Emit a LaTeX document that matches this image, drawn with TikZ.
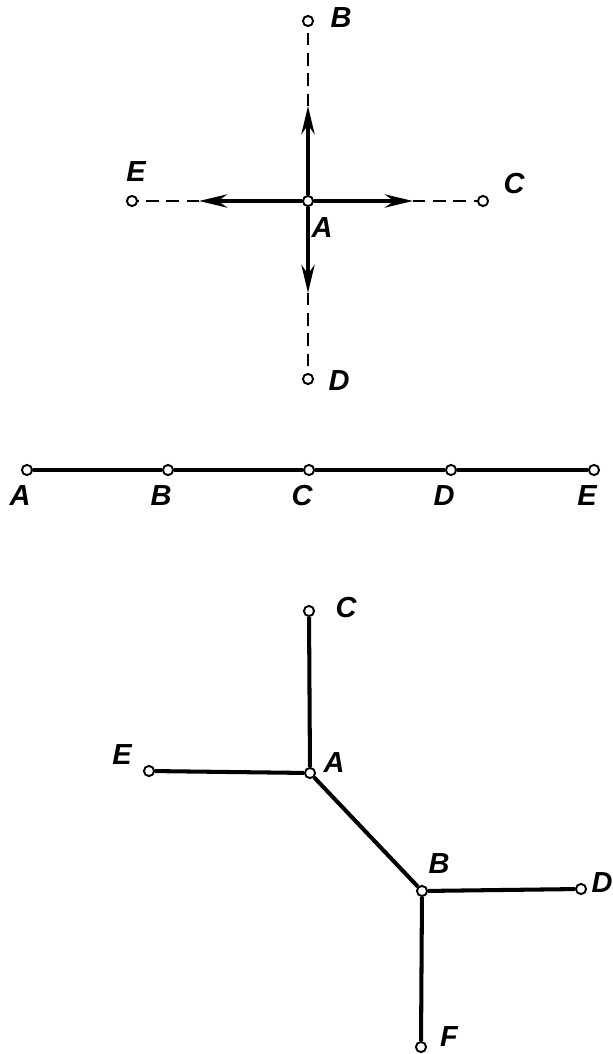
\documentclass[tikz,border=0pt]{standalone}
\usepackage{fontspec}
\setsansfont{Liberation Sans}
\usetikzlibrary{arrows.meta}
\tikzset{>={Stealth[length=16pt,width=7.5pt]}}

\begin{document}
\begin{tikzpicture}[x=0.02cm,y=-0.02cm, % one unit = one pixel of the page
  pt/.style={circle,draw,fill=white,line width=1.1pt,inner sep=0pt,minimum size=5.8pt},
  lbl/.style={font=\sffamily\bfseries\itshape\fontsize{16.5}{16.5}\selectfont,inner sep=0pt},
  bar/.style={line width=2.3pt},
  dashline/.style={line width=1.7pt,dash pattern=on 7pt off 4.5pt}]
  \useasboundingbox (0,0) rectangle (612,1054);

  % cross with the arrows
  \node[pt] (A) at (308,201) {};
  \foreach \n/\x/\y in {B/308/21,C/483/201,D/308/379,E/132/201}{ % outer points
    \node[pt] (\n) at (\x,\y) {};
  }
  \foreach \n/\x/\y in {A/322/228,B/341/18,C/514/184,D/339/381,E/136/172}{ % their letters
    \node[lbl] at (\x,\y) {\n};
  }
  \foreach \n/\x/\y in {B/308/106,C/413/201,D/308/293,E/199/201}{ % arrow tips
    \coordinate (t\n) at (\x,\y);
    \draw[->,bar] (A) -- (t\n);
    \draw[dashline] (t\n) -- (\n);
  }

  % straight row
  \foreach \n/\x in {A/27,B/168,C/309,D/451,E/594}{
    \node[pt] (m\n) at (\x,470) {};
    \node[lbl] at (\x-7,496) {\n};
  }
  \draw[bar] (mA) -- (mB) -- (mC) -- (mD) -- (mE);

  % tree with a bend
  \foreach \n/\x/\y in {A/310/773,B/422/891,C/309/611,D/581/889,E/149/771,F/421/1047}{
    \node[pt] (b\n) at (\x,\y) {};
  }
  \foreach \n/\x/\y in {A/334/763,B/439/864,C/346/608,D/602/883,E/122/755,F/449/1037}{
    \node[lbl] at (\x,\y) {\n};
  }
  \draw[bar] (bC) -- (bA) -- (bE);
  \draw[bar] (bA) -- (bB);
  \draw[bar] (bD) -- (bB) -- (bF);
\end{tikzpicture}
\end{document}
